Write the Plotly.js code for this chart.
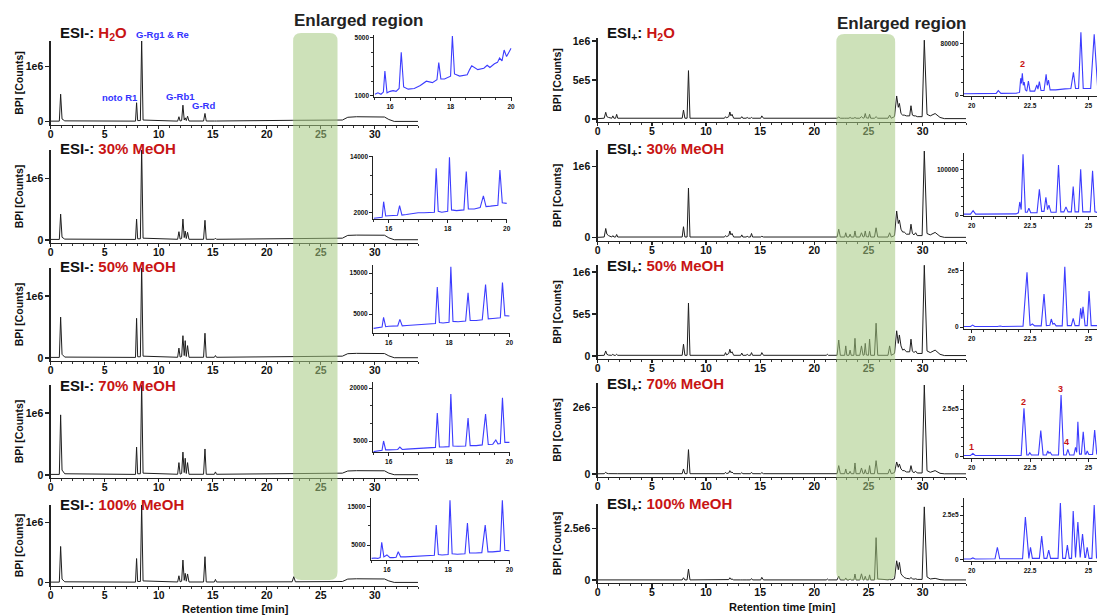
<!DOCTYPE html>
<html>
<head>
<meta charset="utf-8">
<script src="https://cdn.plot.ly/plotly-3.0.1.min.js"></script>
<style>
html,body{margin:0;padding:0;background:#ffffff;}
#chart{width:1097px;height:616px;}
</style>
</head>
<body>
<div id="chart"></div>
<script>
// ================= DATA =================
// ESI- main chromatograms (retention time [min] vs BPI [counts])
const NEG_T = [0,0.8,0.92,1.05,1.3,7.85,7.95,8.05,8.3,8.42,8.55,11.1,11.2,11.3,11.75,11.87,11.98,12.12,12.24,12.36,12.45,12.55,12.67,12.8,14.15,14.28,14.4,15.15,15.25,15.35,22.35,22.5,22.65,27.0,27.5,28.3,30.9,31.3,31.8,34];
const NEG_H2O = [10000,10000,500000,50000,15000,10000,345000,20000,20000,1500000,30000,10000,12000,10000,10000,90000,12000,20000,300000,30000,70000,20000,100000,12000,12000,150000,12000,12000,15000,12000,25000,25000,25000,30000,80000,90000,85000,40000,5000,5000];
const NEG_MEOH30 = [10000,10000,420000,45000,15000,10000,340000,20000,20000,1500000,30000,10000,20000,10000,12000,135000,15000,25000,340000,40000,145000,25000,125000,12000,12000,320000,12000,12000,30000,12000,25000,25000,25000,30000,75000,80000,78000,35000,5000,5000];
const NEG_MEOH50 = [10000,10000,660000,60000,15000,10000,640000,20000,20000,1500000,30000,10000,15000,10000,12000,160000,15000,25000,360000,40000,280000,25000,200000,12000,12000,400000,12000,12000,40000,12000,25000,25000,25000,30000,70000,75000,72000,35000,5000,5000];
const NEG_MEOH70 = [10000,10000,970000,80000,20000,10000,450000,20000,20000,1500000,30000,10000,15000,10000,12000,200000,15000,25000,370000,40000,270000,25000,200000,12000,12000,420000,12000,12000,50000,12000,25000,25000,25000,30000,65000,70000,68000,30000,5000,5000];
const NEG_MEOH100 = [10000,10000,600000,60000,15000,10000,400000,20000,20000,1300000,30000,10000,20000,10000,12000,115000,15000,25000,375000,40000,155000,25000,145000,12000,12000,430000,12000,12000,55000,12000,15000,100000,15000,20000,60000,65000,62000,30000,5000,5000];

// ESI+ main chromatograms
const POS_T = [0,0.6,0.74,0.85,1.0,1.3,1.4,1.5,1.65,1.75,1.85,7.8,7.92,8.05,8.25,8.38,8.52,11.7,11.8,11.9,12.1,12.2,12.3,12.4,12.55,13.2,13.3,13.4,13.7,13.8,13.9,14.1,14.2,14.3,15.05,15.15,15.3,21.1,21.2,21.3,22.1,22.25,22.4,22.8,22.9,23.0,23.2,23.3,23.4,23.65,23.75,23.85,24.2,24.35,24.5,24.6,24.7,24.8,25.0,25.1,25.2,25.55,25.7,25.85,26.8,26.95,27.1,27.4,27.6,27.75,27.85,28.0,28.15,28.3,28.5,28.8,28.92,29.05,29.2,29.35,29.5,29.95,30.15,30.4,30.7,31.15,31.6,32.0,34];
const POS_H2O = [5000,10000,86000,30000,20000,10000,40000,10000,10000,60000,10000,10000,115000,10000,10000,620000,10000,10000,30000,15000,30000,90000,40000,60000,10000,10000,30000,10000,10000,20000,10000,10000,20000,10000,10000,40000,10000,10000,10000,10000,10000,25000,10000,10000,15000,10000,10000,20000,10000,10000,20000,10000,10000,30000,10000,15000,70000,15000,10000,60000,10000,10000,30000,10000,10000,50000,10000,30000,295000,150000,200000,70000,50000,50000,40000,40000,170000,50000,40000,40000,30000,30000,1010000,60000,40000,70000,20000,5000,5000];
const POS_MEOH30 = [5000,10000,130000,50000,30000,10000,30000,10000,10000,45000,10000,10000,155000,10000,10000,700000,10000,10000,30000,15000,30000,95000,40000,60000,10000,10000,40000,10000,10000,20000,10000,10000,60000,10000,10000,20000,10000,10000,10000,10000,10000,120000,10000,10000,70000,10000,10000,50000,10000,10000,95000,10000,10000,70000,10000,15000,95000,15000,10000,90000,10000,10000,140000,10000,10000,70000,10000,30000,375000,200000,250000,120000,80000,80000,50000,50000,190000,60000,40000,70000,30000,30000,1220000,60000,40000,75000,20000,5000,5000];
const POS_MEOH50 = [5000,8000,60000,20000,10000,8000,20000,8000,8000,20000,8000,8000,140000,8000,8000,630000,8000,8000,40000,12000,30000,80000,35000,50000,8000,8000,35000,8000,8000,20000,8000,8000,40000,8000,8000,40000,8000,8000,20000,8000,8000,190000,8000,8000,120000,8000,8000,70000,8000,8000,210000,8000,8000,120000,8000,12000,150000,12000,8000,200000,8000,8000,390000,8000,8000,120000,8000,30000,300000,150000,250000,120000,70000,80000,50000,50000,200000,60000,40000,60000,30000,30000,1080000,60000,40000,70000,20000,5000,5000];
const POS_MEOH70 = [5000,8000,50000,20000,10000,8000,20000,8000,8000,20000,8000,8000,150000,8000,8000,730000,8000,8000,50000,12000,30000,100000,40000,60000,8000,8000,40000,8000,8000,20000,8000,8000,50000,8000,8000,40000,8000,8000,30000,8000,8000,250000,8000,8000,150000,8000,8000,80000,8000,8000,330000,8000,8000,180000,8000,12000,130000,12000,8000,250000,8000,8000,400000,8000,8000,150000,8000,40000,360000,200000,300000,150000,100000,100000,60000,60000,250000,70000,40000,80000,30000,30000,2670000,100000,50000,100000,20000,5000,5000];
const POS_MEOH100 = [5000,5000,20000,10000,5000,5000,5000,5000,5000,5000,5000,5000,110000,5000,5000,530000,5000,5000,30000,8000,20000,110000,30000,50000,5000,5000,20000,5000,5000,10000,5000,5000,70000,5000,5000,130000,5000,5000,50000,5000,5000,190000,5000,5000,100000,5000,5000,50000,5000,5000,290000,5000,5000,300000,5000,10000,180000,10000,5000,250000,5000,5000,2050000,50000,10000,30000,10000,60000,930000,500000,850000,300000,200000,120000,80000,60000,120000,60000,40000,60000,30000,30000,3540000,150000,50000,80000,20000,5000,5000];

// ESI- enlarged insets (15.5 - 20 min)
const NEG_IN_T = [15.5,15.6,15.7,15.78,15.83,15.9,16.0,16.1,16.2,16.3,16.37,16.45,16.6,16.8,17.0,17.2,17.4,17.55,17.61,17.68,17.8,18.0,18.06,18.13,18.3,18.55,18.63,18.7,18.9,19.1,19.21,19.3,19.45,19.55,19.62,19.7,19.77,19.85,20.0];
const NEG_IN_H2O = [1100,1200,1100,1250,2700,1200,1300,1350,1300,1500,4000,1600,1450,1500,1700,2000,1900,2100,3280,2150,2150,2350,5120,2500,2350,2450,2800,3070,2800,2900,3100,2950,3200,3300,3600,3400,4150,3700,4270];
const NEG_IN_MEOH30 = [800,900,850,1000,4360,1300,1360,1350,1400,1450,3500,1500,1600,1800,2000,2000,2050,2100,11500,2300,2100,2300,13900,2600,2450,2600,10800,2800,2800,3100,5600,3300,3400,3500,3500,3600,11150,4140,4000];
const NEG_IN_MEOH50 = [1500,1600,1600,1800,4200,1900,2000,2000,2000,2100,3700,2100,2200,2300,2500,2500,2600,2700,11600,2900,2800,3000,16500,3200,3100,3300,10200,3400,3400,3600,12200,3800,3900,4000,4000,4100,12700,4600,4500];
const NEG_IN_MEOH70 = [2000,2200,2200,2400,5000,2500,2500,2500,2500,2600,3300,2600,2700,2800,3000,3000,3100,3200,12900,3300,3300,3400,18300,3600,3500,3600,11500,3700,3700,3900,12600,4000,4100,5300,4200,4300,17200,4600,4600];
const NEG_IN_MEOH100 = [1500,1600,1500,1700,5700,1900,2400,1700,1700,1800,3250,1900,1900,2000,2100,2100,2200,2300,10200,2500,2400,2500,16700,2700,2600,2700,10700,2900,2900,3000,10200,3200,3200,3300,3300,3400,16700,3600,3500];

// ESI+ enlarged insets (20 - 25 min)
const POS_IN_H2O_T = [19.65,20.9,21.05,21.14,21.25,21.9,22.05,22.1,22.13,22.17,22.21,22.25,22.3,22.36,22.43,22.5,22.7,22.79,22.84,22.9,22.97,23.1,23.19,23.24,23.29,23.36,23.6,24.0,24.25,24.36,24.45,24.58,24.68,24.78,25.1,25.25,25.4];
const POS_IN_H2O_V = [2000,2200,2500,6650,2500,2600,4000,25800,18000,33600,15000,20000,8000,6000,21700,6000,6000,15500,9000,20600,7000,7000,32000,15000,23200,8000,8000,9500,10000,35100,10000,10000,97000,10000,10000,94000,10000];
const POS_IN_MEOH30_T = [19.65,19.95,20.06,20.17,21.9,22.0,22.06,22.12,22.2,22.3,22.38,22.45,22.53,22.8,22.9,23.0,23.1,23.18,23.25,23.31,23.4,23.62,23.72,23.82,23.95,24.04,24.13,24.27,24.35,24.43,24.58,24.67,24.76,25.08,25.18,25.28,25.45];
const POS_IN_MEOH30_V = [2000,2000,9500,2000,2500,5000,29000,12000,135000,6000,6000,15000,5000,5000,57000,8000,8000,39000,12000,22000,6000,6000,111000,7000,7000,18000,7000,7000,63000,7000,7000,101500,7000,7000,98000,7000,5000];
const POS_IN_MEOH50_T = [19.65,19.95,20.04,20.13,21.1,21.22,21.32,22.2,22.37,22.5,22.6,22.7,22.98,23.1,23.2,23.35,23.41,23.48,23.54,23.62,23.88,23.99,24.1,24.27,24.35,24.43,24.6,24.67,24.72,24.77,24.86,24.95,25.03,25.12,25.45];
const POS_IN_MEOH50_V = [2000,2000,7000,2000,2000,3500,2000,3000,195000,5000,10700,4000,4000,118000,5000,6000,28600,10000,13000,4000,4000,215000,5000,5000,31000,5000,5000,67000,30000,72500,5000,5000,128000,5000,5000];
const POS_IN_MEOH70_T = [19.65,19.95,20.05,20.15,21.05,21.14,21.23,22.12,22.24,22.36,22.43,22.49,22.56,22.86,22.96,23.06,23.2,23.26,23.31,23.36,23.44,23.72,23.83,23.94,24.05,24.12,24.2,24.38,24.45,24.5,24.55,24.62,24.7,24.78,24.86,24.9,24.95,25.02,25.18,25.27,25.36];
const POS_IN_MEOH70_V = [3000,3000,14000,3000,3000,5000,3000,3000,254000,5000,5000,17500,5000,5000,135000,5000,5000,26500,15000,20000,5000,5000,324000,5000,5000,35600,5000,5000,46000,20000,182000,10000,10000,129000,10000,10000,26500,8000,8000,138000,8000];
const POS_IN_MEOH100_T = [19.65,19.95,20.05,20.15,21.0,21.1,21.2,22.18,22.3,22.42,22.45,22.52,22.6,22.9,23.0,23.1,23.22,23.3,23.38,23.7,23.8,23.9,24.02,24.1,24.18,24.28,24.35,24.45,24.55,24.65,24.75,24.85,24.88,24.95,25.03,25.15,25.25,25.35];
const POS_IN_MEOH100_V = [2000,2000,8000,2000,3000,68000,3000,3000,238000,5000,5000,68000,5000,5000,131000,5000,5000,52000,5000,5000,318000,5000,5000,80000,5000,5000,273000,10000,210000,10000,143000,10000,10000,68000,5000,5000,306000,5000];

// Labels / ticks
const SOLVENTS = ['H<sub>2</sub>O', '30% MeOH', '50% MeOH', '70% MeOH', '100% MeOH'];
const NEG_Y_TICKVALS = [0, 1000000];
const NEG_Y_TICKTEXT = ['0', '1e6'];
const POS_Y_TICKVALS = [[0,500000,1000000],[0,1000000],[0,500000,1000000],[0,2000000],[0,2500000]];
const POS_Y_TICKTEXT = [['0','5e5','1e6'],['0','1e6'],['0','5e5','1e6'],['0','2e6'],['0','2.5e6']];
const NEG_IN_X_TICKS = [16, 18, 20];
const POS_IN_X_TICKS = [20, 22.5, 25];
const POS_IN_X_TEXT = ['20', '22.5', '25'];
const NEG_IN_Y_TICKVALS = [[1000,5000],[2000,14000],[5000,15000],[5000,20000],[5000,15000]];
const NEG_IN_Y_TICKTEXT = [['1000','5000'],['2000','14000'],['5000','15000'],['5000','20000'],['5000','15000']];
const POS_IN_Y_TICKVALS = [[0,80000],[0,100000],[0,200000],[0,250000],[0,250000]];
const POS_IN_Y_TICKTEXT = [['0','80000'],['0','100000'],['0','2e5'],['0','2.5e5'],['0','2.5e5']];
const PEAK_NAMES = ['G-Rg1 & Re', 'noto R1', 'G-Rb1', 'G-Rd'];
const ENLARGED_NEG = [22.44, 26.55];
const ENLARGED_POS = [22.03, 27.46];
const POS_H2O_LABELS = ['2'];
const POS_MEOH70_LABELS = ['1', '2', '3', '4'];

// ================= LAYOUT GEOMETRY =================
const W = 1097, H = 616;
const FONT = 'Liberation Sans, Arial, Helvetica, sans-serif';
const RED = '#c81414', BLUE = '#3333ff';

const G = {
  negMainX: [50.7, 418], posMainX: [597.7, 966],
  negMainY: [[41,124.5],[150,242.5],[268,360.5],[385,477.5],[505,585.5]],
  negMainR: [[-51000,1467000],[-40000,1459000],[-40000,1452000],[-40000,1452000],[-46000,1286000]],
  posMainY: [[38,121.5],[150,240.5],[265,358.5],[383,476.5],[504,582.7]],
  posMainR: [[-32000,1038000],[-39000,1235000],[-30000,1083000],[-76000,2730000],[-130000,3680000]],
  negInX: [[374.3,511.7],[373.3,507.3],[373,510],[373,510],[371,510]],
  negInY: [[35,96.7],[156,219.3],[265,333],[382,452],[498.3,560]],
  negInR: [[930,5190],[586,14150],[366,16950],[1887,21700],[1084,17190]],
  negInMinor: [1000, 4000, 5000, 5000, 5000],
  posInX: [964, 1097],
  posInY: [[31,95.7],[153.3,216],[262,329],[385,458],[498,561]],
  posInR: [[-1080,99000],[-2200,137000],[-7100,232000],[-10600,377700],[-9600,346000]],
  posInMinor: [20000, 20000, 50000, 50000, 50000],
  negTitleY: [33,148,266,385,504], posTitleY: [33,149,266,384,504],
};

const NEG_ROWS = [NEG_H2O, NEG_MEOH30, NEG_MEOH50, NEG_MEOH70, NEG_MEOH100];
const POS_ROWS = [POS_H2O, POS_MEOH30, POS_MEOH50, POS_MEOH70, POS_MEOH100];
const NEG_IN_ROWS = [NEG_IN_H2O, NEG_IN_MEOH30, NEG_IN_MEOH50, NEG_IN_MEOH70, NEG_IN_MEOH100];
const POS_IN_ROWS = [[POS_IN_H2O_T,POS_IN_H2O_V],[POS_IN_MEOH30_T,POS_IN_MEOH30_V],[POS_IN_MEOH50_T,POS_IN_MEOH50_V],[POS_IN_MEOH70_T,POS_IN_MEOH70_V],[POS_IN_MEOH100_T,POS_IN_MEOH100_V]];

const sfx = n => (n === 1 ? '' : String(n));
const traces = [];
const layout = {
  width: W, height: H, margin: {l:0, r:0, t:0, b:0},
  paper_bgcolor: '#ffffff', plot_bgcolor: 'rgba(0,0,0,0)',
  showlegend: false, font: {family: FONT, color: '#111'},
  annotations: [], shapes: []
};

function baseAxis(size, lw, tl) {
  return {
    showline: true, linecolor: '#222', linewidth: lw,
    ticks: 'outside', ticklen: tl, tickwidth: lw, tickcolor: '#222',
    showgrid: false, zeroline: false, fixedrange: true,
    tickfont: {family: FONT, size: size, color: '#111', weight: 'bold'}
  };
}
function addAxes(n, xpx, ypx, xcfg, ycfg) {
  const xa = Object.assign(baseAxis(xcfg._fs, xcfg._lw, xcfg._tl), {domain: [xpx[0]/W, xpx[1]/W], anchor: 'y' + sfx(n)}, xcfg);
  const ya = Object.assign(baseAxis(ycfg._fs, ycfg._lw, ycfg._tl), {domain: [1 - ypx[1]/H, 1 - ypx[0]/H], anchor: 'x' + sfx(n)}, ycfg);
  ['_fs','_lw','_tl'].forEach(k => { delete xa[k]; delete ya[k]; });
  layout['xaxis' + sfx(n)] = xa;
  layout['yaxis' + sfx(n)] = ya;
}
function addTrace(n, x, y, color, width) {
  traces.push({type: 'scatter', mode: 'lines', x: x, y: y, xaxis: 'x' + sfx(n), yaxis: 'y' + sfx(n),
    line: {color: color, width: width}, hoverinfo: 'skip'});
}
function ann(px, py, text, size, color, opts) {
  layout.annotations.push(Object.assign({xref: 'paper', yref: 'paper', x: px / W, y: 1 - py / H,
    text: text, showarrow: false, font: {family: FONT, size: size, color: color || '#111'},
    xanchor: 'center', yanchor: 'middle'}, opts || {}));
}

const mainX = () => ({_fs: 10.5, _lw: 1.3, _tl: 3.5, range: [0, 34], tickmode: 'linear', tick0: 0, dtick: 5,
  ticklabelstandoff: -4,
  minor: {ticks: 'outside', ticklen: 2, dtick: 1, tick0: 0, tickcolor: '#333', tickwidth: 1}});

for (let i = 0; i < 5; i++) {
  // ESI- main
  const n = i + 1;
  addAxes(n, G.negMainX, G.negMainY[i], mainX(),
    {_fs: 10.5, _lw: 1.3, _tl: 4, range: G.negMainR[i], tickmode: 'array', tickvals: NEG_Y_TICKVALS, ticktext: NEG_Y_TICKTEXT});
  addTrace(n, NEG_T, NEG_ROWS[i], '#1e1e1e', 1);
  // ESI+ main
  const m = i + 6;
  addAxes(m, G.posMainX, G.posMainY[i], mainX(),
    {_fs: 10.5, _lw: 1.3, _tl: 4, range: G.posMainR[i], tickmode: 'array', tickvals: POS_Y_TICKVALS[i], ticktext: POS_Y_TICKTEXT[i]});
  addTrace(m, POS_T, POS_ROWS[i], '#1e1e1e', 1);
  // ESI- inset
  const a = i + 11;
  addAxes(a, G.negInX[i], G.negInY[i],
    {_fs: 6.5, _lw: 1, _tl: 3, range: [15.48, 20.02], tickmode: 'array', tickvals: NEG_IN_X_TICKS,
     ticktext: NEG_IN_X_TICKS.map(String),
     minor: {ticks: 'outside', ticklen: 2, dtick: 0.5, tick0: 16, tickcolor: '#333'}},
    {_fs: 6.5, _lw: 1, _tl: 3, range: G.negInR[i], tickmode: 'array', tickvals: NEG_IN_Y_TICKVALS[i], ticktext: NEG_IN_Y_TICKTEXT[i],
     minor: {ticks: 'outside', ticklen: 2, dtick: G.negInMinor[i], tick0: NEG_IN_Y_TICKVALS[i][0], tickcolor: '#333'}});
  addTrace(a, NEG_IN_T, NEG_IN_ROWS[i], '#3c3cff', 1.1);
  // ESI+ inset
  const b = i + 16;
  addAxes(b, G.posInX, G.posInY[i],
    {_fs: 6.5, _lw: 1, _tl: 3, range: [19.67, 25.37], tickmode: 'array', tickvals: POS_IN_X_TICKS,
     ticktext: POS_IN_X_TEXT,
     minor: {ticks: 'outside', ticklen: 2, dtick: 0.5, tick0: 20, tickcolor: '#333'}},
    {_fs: 6.5, _lw: 1, _tl: 3, range: G.posInR[i], tickmode: 'array', tickvals: POS_IN_Y_TICKVALS[i], ticktext: POS_IN_Y_TICKTEXT[i],
     minor: {ticks: 'outside', ticklen: 2, dtick: G.posInMinor[i], tick0: 0, tickcolor: '#333'}});
  addTrace(b, POS_IN_ROWS[i][0], POS_IN_ROWS[i][1], '#3c3cff', 1.1);

  // Titles
  ann(58, G.negTitleY[i], '<b>ESI-: <span style="color:' + RED + '">' + SOLVENTS[i] + '</span></b>', 15, '#111', {xanchor: 'left'});
  ann(605, G.posTitleY[i], '<b>ESI<sub>+</sub>: <span style="color:' + RED + '">' + SOLVENTS[i] + '</span></b>', 15, '#111', {xanchor: 'left'});
  // Y titles
  const ly = G.negMainY[i], ry = G.posMainY[i];
  ann(19, (ly[0] + ly[1]) / 2, '<b>BPI [Counts]</b>', 10.5, '#111', {textangle: -90});
  ann(557, (ry[0] + ry[1]) / 2, '<b>BPI [Counts]</b>', 10.5, '#111', {textangle: -90});
}

// X titles
ann(235, 609, '<b>Retention time [min]</b>', 11, '#111');
ann(782, 607, '<b>Retention time [min]</b>', 11, '#111');
// Enlarged region
ann(358, 21, '<b>Enlarged region</b>', 17, '#222');
ann(901, 23, '<b>Enlarged region</b>', 17, '#222');
// Peak names (ESI- H2O)
ann(162, 34, '<b>' + PEAK_NAMES[0] + '</b>', 9.5, BLUE);
ann(119.5, 97, '<b>' + PEAK_NAMES[1] + '</b>', 9.5, BLUE);
ann(180, 96, '<b>' + PEAK_NAMES[2] + '</b>', 9.5, BLUE);
ann(203, 106, '<b>' + PEAK_NAMES[3] + '</b>', 9.5, BLUE);
// Inset peak numbers
ann(1022.7, 64, '<b>' + POS_H2O_LABELS[0] + '</b>', 9, RED);
const p70pos = [[971.7, 447], [1023.3, 402], [1060, 389], [1066.7, 441.5]];
POS_MEOH70_LABELS.forEach((t, k) => ann(p70pos[k][0], p70pos[k][1], '<b>' + t + '</b>', 9, RED));

// Enlarged-region highlight bands (rounded rectangles)
function roundedPath(x0, x1, pyTop, pyBot, pxPerUnit) {
  const rx = 8 / pxPerUnit, ry = 8 / H;
  const yt = 1 - pyTop / H, yb = 1 - pyBot / H;
  return 'M' + x0 + ',' + (yb + ry) + ' L' + x0 + ',' + (yt - ry) +
    ' Q' + x0 + ',' + yt + ' ' + (x0 + rx) + ',' + yt +
    ' L' + (x1 - rx) + ',' + yt + ' Q' + x1 + ',' + yt + ' ' + x1 + ',' + (yt - ry) +
    ' L' + x1 + ',' + (yb + ry) + ' Q' + x1 + ',' + yb + ' ' + (x1 - rx) + ',' + yb +
    ' L' + (x0 + rx) + ',' + yb + ' Q' + x0 + ',' + yb + ' ' + x0 + ',' + (yb + ry) + ' Z';
}
const negPx = (G.negMainX[1] - G.negMainX[0]) / 34;
const posPx = (G.posMainX[1] - G.posMainX[0]) / 34;
layout.shapes.push({type: 'path', xref: 'x', yref: 'paper', layer: 'above',
  path: roundedPath(ENLARGED_NEG[0], ENLARGED_NEG[1], 33, 580, negPx),
  fillcolor: 'rgb(164,200,127)', opacity: 0.55, line: {width: 0}});
layout.shapes.push({type: 'path', xref: 'x6', yref: 'paper', layer: 'above',
  path: roundedPath(ENLARGED_POS[0], ENLARGED_POS[1], 34, 580, posPx),
  fillcolor: 'rgb(164,200,127)', opacity: 0.55, line: {width: 0}});

Plotly.newPlot('chart', traces, layout, {staticPlot: true, displayModeBar: false});
</script>
</body>
</html>
